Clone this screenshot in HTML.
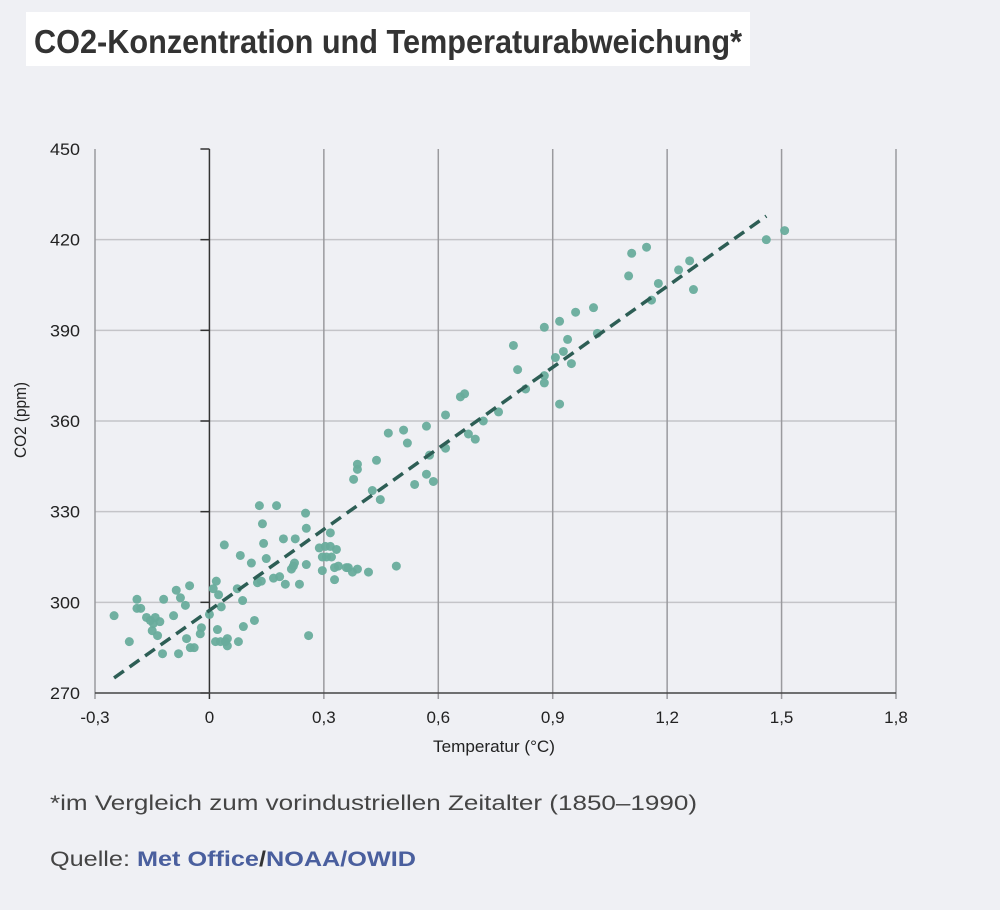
<!DOCTYPE html>
<html><head><meta charset="utf-8">
<style>
body{margin:0;width:1000px;height:910px;background:#eff0f4;font-family:"Liberation Sans",sans-serif;overflow:hidden;position:relative}
#title{position:absolute;left:26px;top:12px;width:724px;height:54px;background:#fff}
</style></head><body>
<div id="title"></div>
<svg width="1000" height="910" style="position:absolute;left:0;top:0">
<text x="34" y="53" font-size="33" font-weight="bold" fill="#333" textLength="708" lengthAdjust="spacingAndGlyphs">CO2-Konzentration und Temperaturabweichung*</text>
<text x="50" y="810" font-size="21" fill="#444" textLength="647" lengthAdjust="spacingAndGlyphs">*im Vergleich zum vorindustriellen Zeitalter (1850–1990)</text>
<text x="50" y="866" font-size="21" fill="#444" textLength="366" lengthAdjust="spacingAndGlyphs">Quelle: <tspan font-weight="bold" fill="#4a5f9e">Met Office</tspan><tspan font-weight="bold" fill="#333">/</tspan><tspan font-weight="bold" fill="#4a5f9e">NOAA/OWID</tspan></text>
</svg>
<svg id="chart" width="1000" height="780" style="position:absolute;left:0;top:0" font-family="Liberation Sans, sans-serif"></svg>
<script>
const xTicks=[-0.3,0,0.3,0.6,0.9,1.2,1.5,1.8];
const xTickLabels=["-0,3","0","0,3","0,6","0,9","1,2","1,5","1,8"];
const yTicks=[270,300,330,360,390,420,450];
const yTickLabels=["270","300","330","360","390","420","450"];
const temps=[-0.25,-0.21,-0.19,-0.19,-0.18,-0.165,-0.155,-0.15,-0.147,-0.142,-0.136,-0.13,-0.123,-0.12,-0.094,-0.087,-0.081,-0.076,-0.063,-0.06,-0.05,-0.052,-0.04,-0.024,-0.021,0,0.01,0.016,0.018,0.021,0.024,0.029,0.031,0.039,0.042,0.047,0.047,0.073,0.076,0.081,0.087,0.089,0.11,0.118,0.126,0.131,0.136,0.139,0.142,0.149,0.168,0.176,0.184,0.194,0.199,0.215,0.22,0.223,0.225,0.236,0.252,0.254,0.26,0.254,0.288,0.296,0.296,0.304,0.307,0.317,0.317,0.32,0.328,0.328,0.333,0.338,0.359,0.364,0.375,0.388,0.417,0.49,
0.378,0.388,0.388,0.427,0.438,0.448,0.469,0.509,0.519,0.538,0.569,0.569,0.577,0.587,0.619,0.619,0.658,0.669,0.679,0.697,0.718,0.758,0.797,0.808,0.829,0.878,0.878,0.878,0.907,0.918,0.918,0.928,0.939,0.949,0.96,1.007,1.017,1.099,1.159,1.177,1.23,1.269,1.107,1.146,1.259,1.46,1.508];
const co2=[295.6,287,301,298,298,295,294,290.6,293,295,289,293.6,283,301,295.6,304,283,301.5,299,288,285,305.5,285,289.6,291.6,296,304.5,287,307,291,302.5,287,298.5,319,287,288,285.6,304.5,287,315.5,300.6,292,313,294,306.5,332,307,326,319.5,314.5,308,332,308.5,321,306,311,312,313,321,306,329.5,324.5,289,312.5,318,315,310.5,318.5,315,323,318.5,315,311.5,307.5,317.5,312,311.5,311.5,310,311,310,312,
340.7,344,345.7,337,347,334,356,357,352.7,339,358.3,342.4,348.7,340,362,351,368,369,355.7,354,360,363,385,377,370.6,391,375,372.6,381,393,365.6,383,387,379,396,397.5,389,408,400,405.5,410,403.5,415.5,417.5,413,420,423];
const trendT=[-0.25,1.46];
const trendC=[275,427.8];

const svg=document.getElementById('chart');
const NS='http://www.w3.org/2000/svg';
const X0=95,X1=896,Y0=693,Y1=149;
const xs=v=>X0+(v+0.3)/2.1*(X1-X0);
const ys=v=>Y0-(v-270)/180*(Y0-Y1);
function mk(tag,attrs,parent){const e=document.createElementNS(NS,tag);for(const k in attrs)e.setAttribute(k,attrs[k]);(parent||svg).appendChild(e);return e;}
yTicks.forEach((t,i)=>{
  if(t>270&&t<450){const g=mk('line',{x1:X0,x2:X1,y1:ys(t),y2:ys(t),stroke:'#c4c4c8','stroke-width':1.5});
  
  }
  const tk=mk('line',{x1:xs(0)-9,x2:xs(0),y1:ys(t),y2:ys(t),stroke:'#333','stroke-width':1.5});
  
  
  const tx=mk('text',{x:80,y:ys(t)+6,'text-anchor':'end','font-size':17,fill:'#222',textLength:30,lengthAdjust:'spacingAndGlyphs'});
  tx.textContent=yTickLabels[i];
  
  
});
xTicks.forEach((t,i)=>{
  const isZero=t===0;
  const g=mk('line',{x1:xs(t),x2:xs(t),y1:Y1,y2:Y0+6,stroke:isZero?'#333':'#9a9a9e','stroke-width':1.5});
  
  
  const tx=mk('text',{x:xs(t),y:Y0+30,'text-anchor':'middle','font-size':17,fill:'#222'});
  tx.textContent=xTickLabels[i];
  
  
});
const ax=mk('line',{x1:X0,x2:X1,y1:Y0,y2:Y0,stroke:'#444','stroke-width':1.5});


temps.forEach((t,i)=>{
  const c=mk('circle',{cx:xs(t),cy:ys(co2[i]),r:4.5,fill:'#68ac9c','fill-opacity':0.95});
  
  
});
const tl=mk('line',{x1:xs(trendT[0]),y1:ys(trendC[0]),x2:xs(trendT[1]),y2:ys(trendC[1]),stroke:'#2d5e55','stroke-width':3.5,'stroke-dasharray':'12 7'});


const xt=mk('text',{x:494,y:752,'text-anchor':'middle','font-size':17,fill:'#222',textLength:122,lengthAdjust:'spacingAndGlyphs'});
xt.textContent='Temperatur (°C)';


const yt=mk('text',{x:26,y:420,'text-anchor':'middle','font-size':17,fill:'#222',transform:'rotate(-90 26 420)',textLength:76,lengthAdjust:'spacingAndGlyphs'});
yt.textContent='CO2 (ppm)';


</script>
</body></html>
